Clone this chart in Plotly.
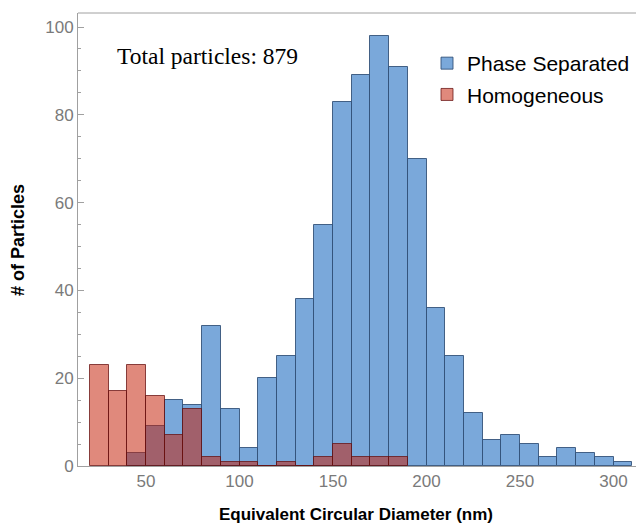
import plotly.graph_objects as go

# --- Data (10 nm bins, left edges) ---
bin_width = 10
phase_bins = [40, 50, 60, 70, 80, 90, 100, 110, 120, 130, 140, 150, 160, 170, 180,
              190, 200, 210, 220, 230, 240, 250, 260, 270, 280, 290, 300]
phase_counts = [3, 9, 15, 14, 32, 13, 4, 20, 25, 38, 55, 83, 89, 98, 91,
                70, 36, 25, 12, 6, 7, 5, 2, 4, 3, 2, 1]

homog_bins = [20, 30, 40, 50, 60, 70, 80, 90, 100, 110, 120, 130, 140, 150, 160, 170, 180]
homog_counts = [23, 17, 23, 16, 7, 13, 2, 1, 1, 0, 1, 0, 2, 5, 2, 2, 2]

total = sum(phase_counts) + sum(homog_counts)

# the page body has an 8px margin, so the figure is drawn 8px smaller
W, H = 636, 517
L, T, B = 70, 5, 59          # plot area: x 70..636, y 5..458 in figure pixels
PW, PH = W - L, H - T - B


def px(x, y):
    # window pixel -> paper coords
    return (x - 8 - L) / PW, (H - B - (y - 8)) / PH


fig = go.Figure()

# blue histogram underneath
fig.add_trace(go.Bar(
    x=[b + bin_width / 2 for b in phase_bins], y=phase_counts, width=bin_width,
    name="Phase Separated", legendgroup="a",
    marker=dict(color="#7aa8da", line=dict(color="rgba(45,75,115,0.85)", width=1)),
))
# semi-transparent red on top -> dark overlap
fig.add_trace(go.Bar(
    x=[b + bin_width / 2 for b in homog_bins], y=homog_counts, width=bin_width,
    name="Homogeneous", legendgroup="b",
    marker=dict(color="rgba(196,32,8,0.53)", line=dict(color="rgba(100,15,15,0.75)", width=1)),
))

lx, ly = px(427, 43)
tx, ty = px(207, 56)
xt_x, xt_y = px(356, 515)
yt_x, yt_y = px(18, 240)

axis_grey = "#a0a0a0"
fig.update_layout(
    width=W, height=H,
    margin=dict(l=L, r=0, t=T, b=B),
    barmode="overlay",
    bargap=0,
    plot_bgcolor="white", paper_bgcolor="white",
    font=dict(family="Liberation Sans, Arial, sans-serif", color="#7a7a7a", size=17),
    showlegend=True,
    legend=dict(x=lx, y=ly, xanchor="left", yanchor="top",
                font=dict(size=21, color="black"), bgcolor="rgba(0,0,0,0)",
                tracegroupgap=1, itemwidth=30),
    annotations=[
        dict(text=f"Total particles: {total}", x=tx, y=ty, xref="paper", yref="paper",
             xanchor="center", yanchor="middle", showarrow=False,
             font=dict(family="Liberation Serif, Times New Roman, serif", size=23.5, color="black")),
        dict(text="<b>Equivalent Circular Diameter (nm)</b>", x=xt_x, y=xt_y, xref="paper", yref="paper",
             xanchor="center", yanchor="middle", showarrow=False,
             font=dict(size=17, color="black")),
        dict(text="<b># of Particles</b>", x=yt_x, y=yt_y, xref="paper", yref="paper",
             textangle=-90, xanchor="center", yanchor="middle", showarrow=False,
             font=dict(size=18, color="black")),
    ],
)

fig.update_xaxes(
    range=[13.6, 316.3], tickvals=[50, 100, 150, 200, 250, 300],
    showgrid=False, zeroline=False, showline=True, linecolor=axis_grey, linewidth=1,
    ticks="", automargin=False,
)
fig.update_yaxes(
    range=[0, 103.2], tickvals=[0, 20, 40, 60, 80, 100],
    showgrid=False, zeroline=False, showline=True, linecolor=axis_grey, linewidth=1,
    ticks="inside", ticklen=6, tickcolor=axis_grey, automargin=False,
    minor=dict(dtick=5, ticks="inside", ticklen=3, tickcolor=axis_grey),
)
# top border of the frame
fig.add_shape(type="line", xref="paper", yref="paper", x0=0, x1=1, y0=1, y1=1,
              line=dict(color=axis_grey, width=1))

fig.write_html("out.html")
